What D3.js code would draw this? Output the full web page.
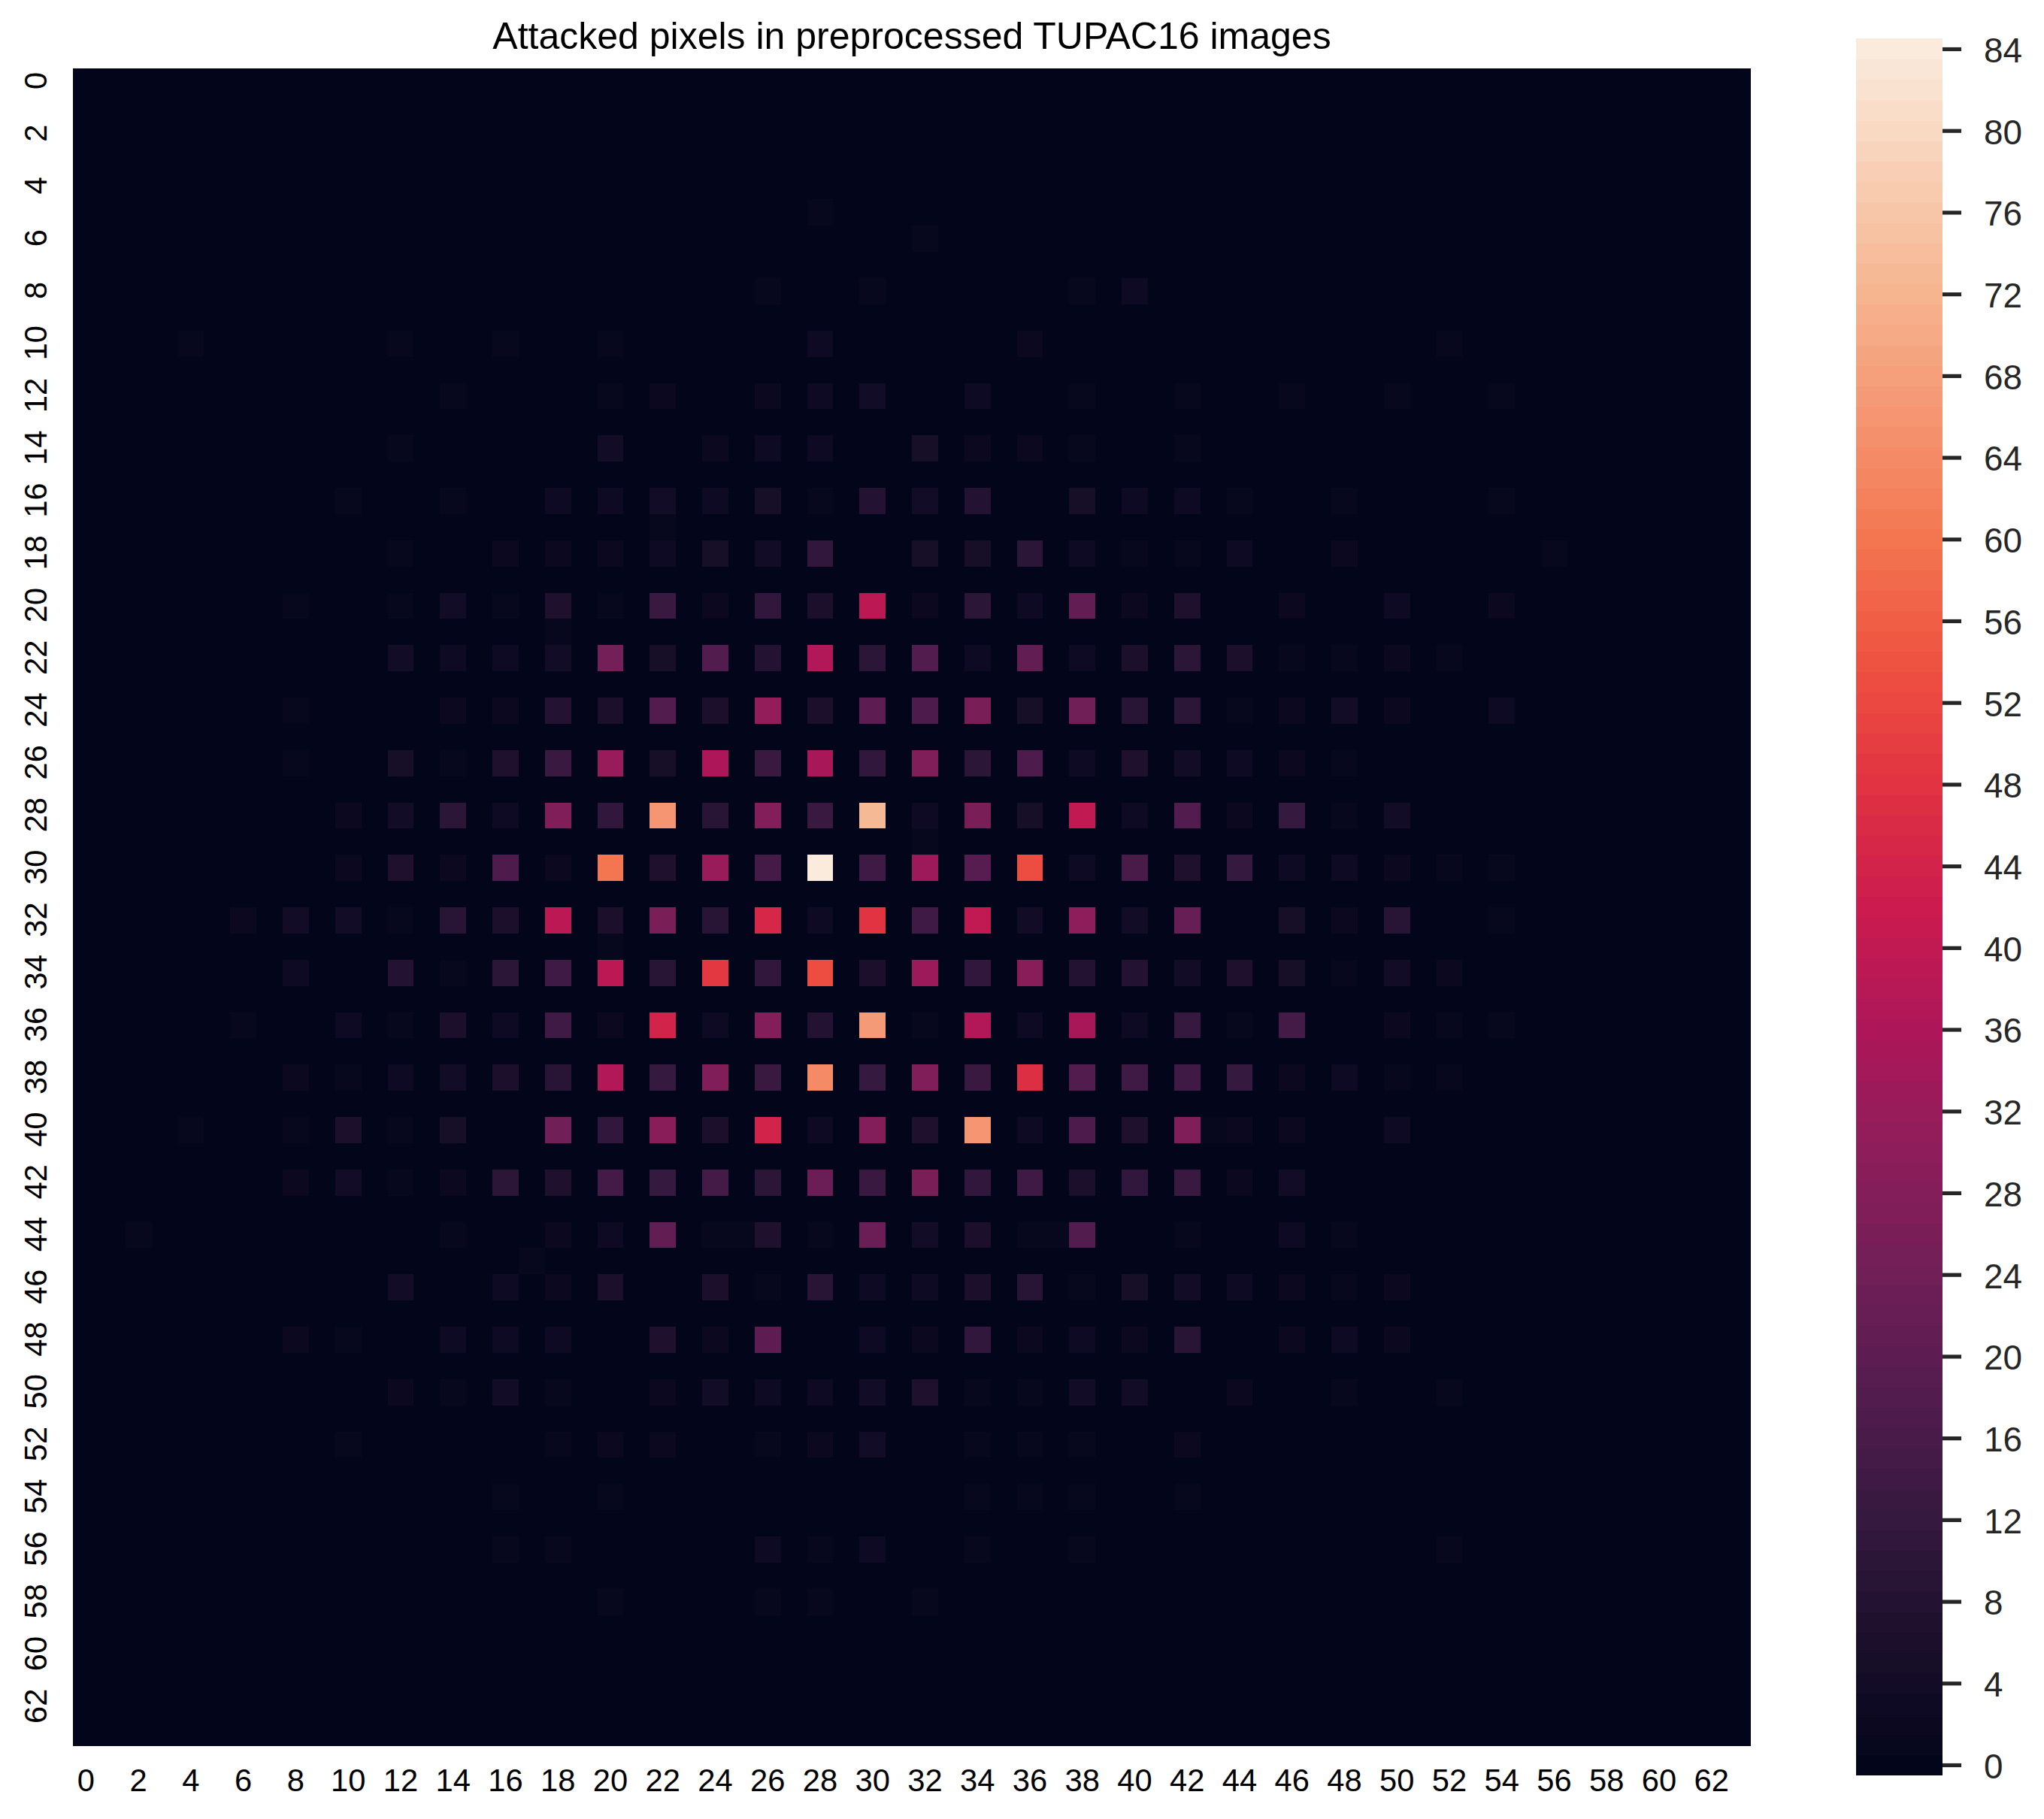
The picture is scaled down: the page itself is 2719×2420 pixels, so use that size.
<!DOCTYPE html>
<html>
<head>
<meta charset="utf-8">
<script src="https://cdn.jsdelivr.net/npm/d3@7/dist/d3.min.js"></script>
<style>
html,body{margin:0;padding:0;background:#fff}
svg{display:block}
text{font-family:"Liberation Sans",Arial,sans-serif}
</style>
</head>
<body>
<div id="chart"></div>
<script>
const chartTitle = "Attacked pixels in preprocessed TUPAC16 images";
const gridSize = 64;
const tickLabels = d3.range(0, 64, 2);
const colorbarTicks = d3.range(0, 85, 4);
const maxValue = 84;
const colorStopPositions = [0, 0.07, 0.143, 0.214, 0.286, 0.357, 0.429, 0.5, 0.571, 0.643, 0.714, 0.786, 0.857, 0.93, 1];
const colorStops = ["#03051a","#1a0f2b","#35193e","#531c4f","#701f57","#8e1d5b","#ad1759","#cb1b4f","#e13342","#ee5240","#f37651","#f59571","#f6b48f","#f8d0b6","#faebdd"];

// Values per even row, for even columns 0,2,...,62.
const row06 = [0,0,0,0,0,0,0,0,0,0,0,0,0,0,0,0,1,0,0,0,0,0,0,0,0,0,0,0,0,0,0,0];
const row08 = [0,0,0,0,0,0,0,0,0,0,0,0,0,1,0,1,0,0,0,1,3,0,0,0,0,0,0,0,0,0,0,0];
const row10 = [0,0,1,0,0,0,1,0,1,0,1,0,0,0,3,0,0,0,2,0,0,0,0,0,0,0,1,0,0,0,0,0];
const row12 = [0,0,0,0,0,0,0,1,0,0,1,2,0,2,3,4,0,3,0,1,0,1,0,1,0,1,0,1,0,0,0,0];
const row14 = [0,0,0,0,0,0,1,0,0,0,4,0,2,3,3,0,5,2,2,1,0,1,0,0,0,0,0,0,0,0,0,0];
const row16 = [0,0,0,0,0,1,0,1,0,3,3,4,3,5,1,8,4,8,0,5,3,3,1,0,1,0,0,1,0,0,0,0];
const row18 = [0,0,0,0,0,0,1,0,2,2,2,3,5,4,11,0,5,5,10,3,1,1,3,0,2,0,0,0,1,0,0,0];
const row20 = [0,0,0,0,1,0,1,4,1,7,1,13,2,11,6,39,2,10,3,21,2,7,0,2,0,3,0,2,0,0,0,0];
const row22 = [0,0,0,0,0,0,4,3,3,4,25,5,18,8,37,10,18,3,21,3,6,10,6,1,1,2,1,0,0,0,0,0];
const row24 = [0,0,0,0,1,0,0,2,2,8,6,18,6,31,6,20,17,26,5,24,9,10,1,2,4,2,0,3,0,0,0,0];
const row26 = [0,0,0,0,1,0,5,1,7,13,32,5,36,13,35,11,27,10,17,3,7,4,3,2,1,0,0,0,0,0,0,0];
const row28 = [0,0,0,0,0,2,4,10,3,27,11,66,9,28,13,73,3,26,5,40,3,18,2,12,1,4,0,0,0,0,0,0];
const row30 = [0,0,0,0,0,2,7,2,17,2,60,7,32,15,84,14,33,19,53,3,16,7,12,3,3,2,1,1,0,0,0,0];
const row32 = [0,0,0,2,4,4,1,9,6,39,6,26,9,45,3,48,14,40,4,30,4,22,0,5,2,9,0,1,0,0,0,0];
const row34 = [0,0,0,0,3,0,8,1,10,14,39,9,49,11,53,6,33,11,29,8,8,4,7,5,1,4,2,0,0,0,0,0];
const row36 = [0,0,0,1,0,3,1,6,3,14,2,44,3,28,8,67,1,37,3,35,3,12,1,15,0,2,1,1,0,0,0,0];
const row38 = [0,0,0,0,2,1,3,4,6,9,37,12,27,13,64,12,27,13,47,18,14,14,12,2,3,1,1,0,0,0,0,0];
const row40 = [0,0,1,0,1,6,1,5,0,24,11,29,6,44,3,28,7,66,3,17,7,27,2,2,0,3,0,0,0,0,0,0];
const row42 = [0,0,0,0,2,4,1,2,10,7,15,12,15,10,23,13,26,11,14,6,11,13,2,4,0,0,0,0,0,0,0,0];
const row44 = [0,1,0,0,0,0,0,1,0,2,3,21,1,7,1,23,4,6,1,18,0,1,0,3,1,0,0,0,0,0,0,0];
const row46 = [0,0,0,0,0,0,4,0,3,2,6,0,6,1,9,3,3,6,9,1,5,4,3,2,1,2,0,0,0,0,0,0];
const row48 = [0,0,0,0,2,1,0,3,3,3,0,7,2,20,0,3,2,11,2,3,2,9,0,2,3,2,0,0,0,0,0,0];
const row50 = [0,0,0,0,0,0,2,1,4,1,0,2,4,3,3,4,7,1,1,4,4,0,2,0,1,0,1,0,0,0,0,0];
const row52 = [0,0,0,0,0,1,0,0,0,1,2,2,0,1,2,4,0,1,1,1,0,2,0,0,0,0,0,0,0,0,0,0];
const row54 = [0,0,0,0,0,0,0,0,1,0,1,0,0,0,0,0,0,1,1,1,0,1,0,0,0,0,0,0,0,0,0,0];
const row56 = [0,0,0,0,0,0,0,0,1,1,0,0,0,3,1,3,0,1,0,1,0,0,0,0,0,0,1,0,0,0,0,0];
const row58 = [0,0,0,0,0,0,0,0,0,0,1,0,0,1,1,0,1,0,0,0,0,0,0,0,0,0,0,0,0,0,0,0];
const evenRowIndex = [6,8,10,12,14,16,18,20,22,24,26,28,30,32,34,36,38,40,42,44,46,48,50,52,54,56,58];
const evenRowValues = [row06,row08,row10,row12,row14,row16,row18,row20,row22,row24,row26,row28,row30,row32,row34,row36,row38,row40,row42,row44,row46,row48,row50,row52,row54,row56,row58];

// The few cells that fall outside the even lattice.
const oddCellRows = [5,17,21,29,33,40,44,44,45];
const oddCellCols = [28,22,18,32,20,43,25,37,17];
const oddCellValues = [1,1,1,1,1,1,1,1,1];

const W = 2719, H = 2420;
const plot = {left:97, right:2329, top:91, bottom:2323};
const bar = {left:2469, right:2584, top:52, bottom:2362, y0:2348, y84:65};

const grid = d3.range(gridSize).map(() => d3.range(gridSize).map(() => 0));
evenRowIndex.forEach((r,i) => evenRowValues[i].forEach((v,j) => { grid[r][j*2] = v; }));
oddCellRows.forEach((r,i) => { grid[r][oddCellCols[i]] = oddCellValues[i]; });

const color = d3.scaleLinear().domain(colorStopPositions.map(p => p*maxValue)).range(colorStops).interpolate(d3.interpolateRgb).clamp(true);
const x = d3.scaleBand().domain(d3.range(gridSize)).range([plot.left, plot.right]);
const y = d3.scaleBand().domain(d3.range(gridSize)).range([plot.top, plot.bottom]);
const barY = d3.scaleLinear().domain([0,maxValue]).range([bar.y0, bar.y84]);

const svg = d3.select("#chart").append("svg").attr("width",W).attr("height",H).attr("viewBox",`0 0 ${W} ${H}`);
svg.append("rect").attr("width",W).attr("height",H).attr("fill","#fff");

const cells = [];
grid.forEach((rw,r) => rw.forEach((v,c) => cells.push({r,c,v})));
svg.append("g").attr("shape-rendering","crispEdges").selectAll("rect").data(cells).join("rect")
  .attr("x",d=>x(d.c)).attr("y",d=>y(d.r))
  .attr("width",x.bandwidth()+0.3).attr("height",y.bandwidth()+0.3)
  .attr("fill",d=>color(d.v));

const xAxis = d3.axisBottom(x).tickValues(tickLabels).tickSize(0).tickPadding(0);
const gx = svg.append("g").attr("transform",`translate(0,${plot.bottom})`).call(xAxis);
gx.select(".domain").remove();
gx.selectAll("text").attr("y",60).attr("dy",0).attr("font-size",41.7).attr("fill","#000").style("font-family",'"Liberation Sans",Arial,sans-serif');

const yAxis = d3.axisLeft(y).tickValues(tickLabels).tickSize(0).tickPadding(0);
const gy = svg.append("g").attr("transform",`translate(${plot.left},0)`).call(yAxis);
gy.select(".domain").remove();
gy.selectAll("text").attr("x",0).attr("dy",0).attr("text-anchor","middle").attr("font-size",41.7).attr("fill","#000")
  .style("font-family",'"Liberation Sans",Arial,sans-serif')
  .attr("transform","translate(-35,-1) rotate(-90)");

svg.append("text").attr("x",(plot.left+plot.right)/2).attr("y",65).attr("text-anchor","middle")
  .attr("font-size",50).attr("fill","#000").text(chartTitle);

svg.append("g").attr("shape-rendering","crispEdges").selectAll("rect").data(d3.range(0,maxValue+1)).join("rect")
  .attr("x",bar.left).attr("width",bar.right-bar.left)
  .attr("y",v=>barY(v+0.5)).attr("height",v=>barY(v-0.5)-barY(v+0.5)+0.5)
  .attr("fill",v=>color(v));

const barAxis = d3.axisRight(barY).tickValues(colorbarTicks).tickSize(25).tickPadding(30);
const gb = svg.append("g").attr("transform",`translate(${bar.right},0)`).call(barAxis);
gb.select(".domain").remove();
gb.selectAll("line").attr("stroke","#262626").attr("stroke-width",5.2);
gb.selectAll("text").attr("font-size",45.8).attr("fill","#262626").attr("dy","0.38em").style("font-family",'"Liberation Sans",Arial,sans-serif');
</script>
</body>
</html>
